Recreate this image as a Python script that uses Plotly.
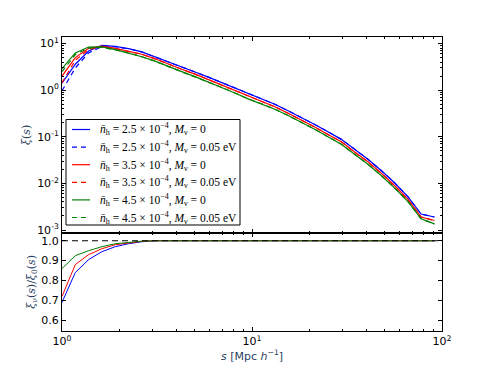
import plotly.graph_objects as go
from plotly.subplots import make_subplots

# separations s [Mpc/h]
s = [1.000, 1.175, 1.380, 1.622, 1.905, 2.239, 2.630, 3.090, 3.631, 4.266,
     5.012, 5.888, 6.918, 8.128, 9.550, 11.22, 13.18, 15.49, 18.20, 21.38,
     25.12, 29.51, 34.67, 40.74, 47.86, 56.23, 66.07, 77.62, 91.20]

# xi(s), n_h = 2.5e-4
xi_25_m0 = [1.41, 3.6, 6.9, 9.1, 8.7, 7.8, 6.6, 5.2, 4.1, 3.2,
            2.45, 1.9, 1.46, 1.11, 0.83, 0.65, 0.50, 0.36, 0.26, 0.184,
            0.128, 0.088, 0.054, 0.033, 0.0189, 0.0103, 0.0052, 0.0022, 0.0019]
xi_25_m05 = [0.97, 3.0, 6.3, 8.6, 8.5, 7.7, 6.6, 5.2, 4.1, 3.2,
             2.45, 1.9, 1.46, 1.11, 0.83, 0.65, 0.50, 0.36, 0.26, 0.184,
             0.128, 0.088, 0.054, 0.033, 0.0189, 0.0103, 0.0052, 0.0022, 0.0019]
# n_h = 3.5e-4
xi_35_m0 = [2.0, 5.0, 7.9, 8.8, 7.9, 6.9, 5.9, 4.7, 3.6, 2.8,
            2.2, 1.68, 1.29, 0.98, 0.73, 0.57, 0.44, 0.32, 0.23, 0.162,
            0.112, 0.078, 0.047, 0.029, 0.0166, 0.0090, 0.0046, 0.0019, 0.0016]
xi_35_m05 = [1.44, 4.4, 7.4, 8.5, 7.8, 6.9, 5.9, 4.7, 3.6, 2.8,
             2.2, 1.68, 1.29, 0.98, 0.73, 0.57, 0.44, 0.32, 0.23, 0.162,
             0.112, 0.078, 0.047, 0.029, 0.0166, 0.0090, 0.0046, 0.0019, 0.0016]
# n_h = 4.5e-4
xi_45_m0 = [2.9, 6.3, 8.4, 8.5, 7.4, 6.3, 5.2, 4.2, 3.2, 2.5,
            1.95, 1.50, 1.15, 0.87, 0.65, 0.51, 0.39, 0.285, 0.204, 0.145,
            0.100, 0.069, 0.042, 0.0257, 0.0148, 0.0080, 0.0041, 0.00174, 0.00135]
xi_45_m05 = [2.5, 5.8, 8.0, 8.3, 7.3, 6.3, 5.2, 4.2, 3.2, 2.5,
             1.95, 1.50, 1.15, 0.87, 0.65, 0.51, 0.39, 0.285, 0.204, 0.145,
             0.100, 0.069, 0.042, 0.0257, 0.0148, 0.0080, 0.0041, 0.00174, 0.00135]

# ratio xi_nu / xi_0
ratio_25 = [0.69, 0.84, 0.905, 0.945, 0.97, 0.985, 0.995, 1.0, 1.0, 1.0,
            1.0, 1.0, 1.0, 1.0, 1.0, 1.0, 1.0, 1.0, 1.0, 1.0,
            1.0, 1.0, 1.0, 1.0, 1.0, 1.0, 1.0, 1.0, 1.0]
ratio_35 = [0.72, 0.88, 0.93, 0.96, 0.98, 0.99, 0.997, 1.0, 1.0, 1.0,
            1.0, 1.0, 1.0, 1.0, 1.0, 1.0, 1.0, 1.0, 1.0, 1.0,
            1.0, 1.0, 1.0, 1.0, 1.0, 1.0, 1.0, 1.0, 1.0]
ratio_45 = [0.86, 0.925, 0.95, 0.97, 0.985, 0.993, 0.998, 1.0, 1.0, 1.0,
            1.0, 1.0, 1.0, 1.0, 1.0, 1.0, 1.0, 1.0, 1.0, 1.0,
            1.0, 1.0, 1.0, 1.0, 1.0, 1.0, 1.0, 1.0, 1.0]
ref_x = [1, 100]
ref_y = [1.0, 1.0]

x_tickvals = [1, 10, 100]
x_ticktext = ["10<sup>0</sup>", "10<sup>1</sup>", "10<sup>2</sup>"]
y_tickvals = [0.001, 0.01, 0.1, 1, 10]
y_ticktext = ["10<sup>-3</sup>", "10<sup>-2</sup>", "10<sup>-1</sup>", "10<sup>0</sup>", "10<sup>1</sup>"]
r_tickvals = [0.6, 0.7, 0.8, 0.9, 1.0]
r_ticktext = ["0.6", "0.7", "0.8", "0.9", "1.0"]

names = [
    "<i>n̄</i><sub>h</sub> = 2.5 × 10<sup>−4</sup>, <i>M</i><sub>ν</sub> = 0",
    "<i>n̄</i><sub>h</sub> = 2.5 × 10<sup>−4</sup>, <i>M</i><sub>ν</sub> = 0.05 eV",
    "<i>n̄</i><sub>h</sub> = 3.5 × 10<sup>−4</sup>, <i>M</i><sub>ν</sub> = 0",
    "<i>n̄</i><sub>h</sub> = 3.5 × 10<sup>−4</sup>, <i>M</i><sub>ν</sub> = 0.05 eV",
    "<i>n̄</i><sub>h</sub> = 4.5 × 10<sup>−4</sup>, <i>M</i><sub>ν</sub> = 0",
    "<i>n̄</i><sub>h</sub> = 4.5 × 10<sup>−4</sup>, <i>M</i><sub>ν</sub> = 0.05 eV",
]

# the page body has an 8px margin, so the figure is a bit smaller than the window
OFF = 8
W, H = 491 - OFF, 368 - OFF
ML, MR, MT, MB = 62 - OFF, 49, 37 - OFF, 37
PW, PH = W - ML - MR, H - MT - MB


def px(x):  # screen pixel -> paper x
    return (x - OFF - ML) / PW


def py(y):  # screen pixel -> paper y
    return 1 - (y - OFF - MT) / PH


fig = make_subplots(rows=2, cols=1, shared_xaxes=True, vertical_spacing=0)

series = [(xi_25_m0, "#0000ff", "solid"), (xi_25_m05, "#0000ff", "5px,4px"),
          (xi_35_m0, "#ff0000", "solid"), (xi_35_m05, "#ff0000", "5px,4px"),
          (xi_45_m0, "#008000", "solid"), (xi_45_m05, "#008000", "5px,4px")]
for (ys, col, dash), nm in zip(series, names):
    fig.add_trace(go.Scatter(x=s, y=ys, mode="lines", name=nm, showlegend=False,
                             line=dict(color=col, width=1.2, dash=dash)), row=1, col=1)

for ys, col in [(ratio_25, "#0000ff"), (ratio_35, "#ff0000"), (ratio_45, "#008000")]:
    fig.add_trace(go.Scatter(x=s, y=ys, mode="lines", showlegend=False,
                             line=dict(color=col, width=1)), row=2, col=1)
fig.add_trace(go.Scatter(x=ref_x, y=ref_y, mode="lines", showlegend=False,
                         line=dict(color="black", width=1.2, dash="6px,4px")), row=2, col=1)

# legend box drawn by hand so that its rows fit matplotlib's spacing
fig.add_shape(type="rect", xref="paper", yref="paper",
              x0=px(66), x1=px(240), y0=py(225), y1=py(119.5),
              line=dict(color="black", width=1), fillcolor="white", layer="above")
for i, ((ys, col, dash), nm) in enumerate(zip(series, names)):
    yy = py(129.5 + 17.6 * i)
    fig.add_shape(type="line", xref="paper", yref="paper",
                  x0=px(72), x1=px(90), y0=yy, y1=yy, layer="above",
                  line=dict(color=col, width=1.2, dash=dash))
    fig.add_annotation(xref="paper", yref="paper", x=px(98), y=yy, text=nm,
                       xanchor="left", yanchor="middle", showarrow=False,
                       font=dict(family="Liberation Serif", size=11.5, color="black"))

tickfont = dict(family="DejaVu Sans", size=11, color="black")
common = dict(showline=True, linecolor="black", linewidth=1, mirror="allticks",
              ticks="inside", ticklen=4, tickcolor="black", showgrid=False,
              zeroline=False, tickfont=tickfont, automargin=False)
minor = dict(ticks="inside", ticklen=2, tickcolor="black", dtick="D1", showgrid=False)

fig.update_xaxes(type="log", range=[0, 2], tickvals=x_tickvals, ticktext=x_ticktext,
                 minor=minor, **common)
fig.update_xaxes(showticklabels=False, row=1, col=1)
fig.update_xaxes(title=dict(text="<i>s</i> [Mpc <i>h</i><sup>−1</sup>]", standoff=2,
                            font=dict(family="DejaVu Sans", size=11)), row=2, col=1)

fig.update_yaxes(type="log", range=[-3.06, 1.14], tickvals=y_tickvals, ticktext=y_ticktext,
                 minor=minor, domain=[0.334, 1],
                 title=dict(text="<i>ξ</i>(<i>s</i>)", standoff=4,
                            font=dict(family="DejaVu Serif", size=11)),
                 row=1, col=1, **common)
fig.update_yaxes(range=[0.546, 1.04], tickvals=r_tickvals, ticktext=r_ticktext,
                 domain=[0, 0.334],
                 title=dict(text="<i>ξ</i><sub>ν</sub>(<i>s</i>)/<i>ξ</i><sub>0</sub>(<i>s</i>)",
                            standoff=3, font=dict(family="DejaVu Serif", size=11)),
                 row=2, col=1, **common)

fig.update_layout(
    width=W, height=H,
    margin=dict(l=ML, r=MR, t=MT, b=MB),
    paper_bgcolor="white", plot_bgcolor="white",
    showlegend=False,
)

fig.write_html("out.html")
